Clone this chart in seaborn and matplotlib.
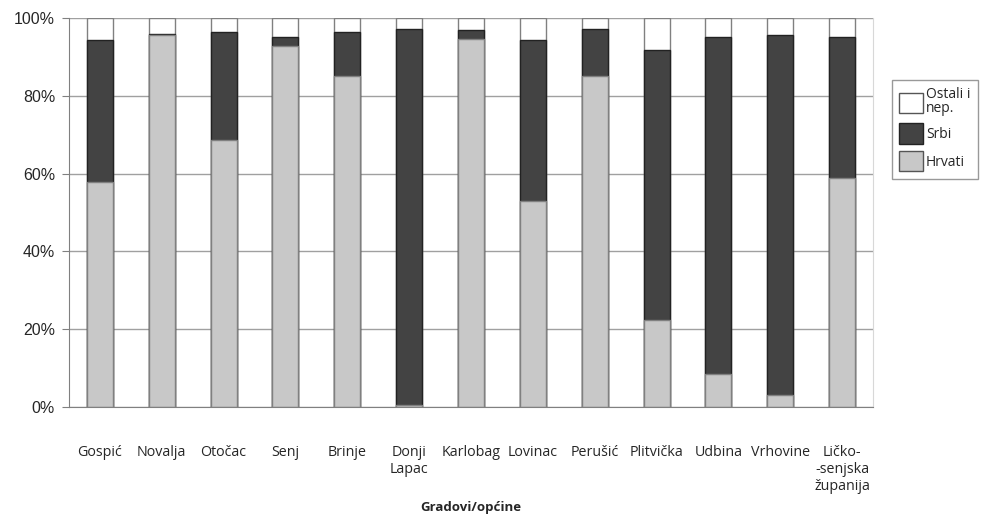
import numpy as np
import pandas as pd
import seaborn as sns
import matplotlib.pyplot as plt
from matplotlib.patches import Patch
from matplotlib.ticker import PercentFormatter

gradovi = ["Gospić", "Novalja", "Otočac", "Senj", "Brinje", "Donji\nLapac",
           "Karlobag", "Lovinac", "Perušić", "Plitvička", "Udbina",
           "Vrhovine", "Ličko-\n-senjska\nžupanija"]
hrvati = [57.9, 95.6, 68.7, 92.9, 85.2, 0.6, 94.6, 53.0, 85.2, 22.4, 8.5, 3.1, 58.9]
srbi = [36.4, 0.4, 27.6, 2.1, 11.1, 96.7, 2.2, 41.3, 12.1, 69.4, 86.6, 92.5, 36.2]
ostali = [100 - h - s for h, s in zip(hrvati, srbi)]

df = pd.DataFrame({"grad": gradovi, "Hrvati": hrvati, "Srbi": srbi, "Ostali": ostali})
df["top_srbi"] = df["Hrvati"] + df["Srbi"]
df["top_ostali"] = df["top_srbi"] + df["Ostali"]

sns.set_style("white")
plt.rcParams["font.family"] = ["Open Sans", "DejaVu Sans"]

fig = plt.figure(figsize=(9.81, 5.15), dpi=100)
ax = fig.add_axes([0.0703, 0.2097, 0.8196, 0.7553])

ax.yaxis.grid(True, color="#a0a0a0", lw=1)
ax.set_axisbelow(True)

w = 0.42
sns.barplot(data=df, x="grad", y="top_ostali", color="white", width=w,
            edgecolor="#808080", linewidth=1, saturation=1, ax=ax)
sns.barplot(data=df, x="grad", y="top_srbi", color="#434343", width=w,
            edgecolor="#222222", linewidth=1, saturation=1, ax=ax)
sns.barplot(data=df, x="grad", y="Hrvati", color="#c8c8c8", width=w,
            edgecolor="#808080", linewidth=1, saturation=1, ax=ax)

ax.set_xlim(-0.5, len(gradovi) - 0.5)
ax.set_ylim(0, 100)
ax.set_yticks(np.arange(0, 101, 20))
ax.yaxis.set_major_formatter(PercentFormatter(decimals=0))
ax.set_xticks(np.arange(-0.5, len(gradovi)), minor=True)
ax.tick_params(axis="x", which="major", length=0, pad=27, labelsize=10.3)
ax.tick_params(axis="x", which="minor", length=5, color="#808080", direction="out")
ax.tick_params(axis="y", length=5, color="#808080", direction="out", pad=5,
               labelsize=11.5, left=True,
               labelfontfamily="Liberation Sans")
for lbl in ax.get_xticklabels():
    lbl.set_verticalalignment("top")
    lbl.set_horizontalalignment("center")
    lbl.set_linespacing(1.2)

ax.set_ylabel("")
ax.set_xlabel("Gradovi/općine", fontsize=9.5, fontweight="bold", labelpad=5)

for side in ["left", "bottom"]:
    ax.spines[side].set_color("#808080")
ax.spines["top"].set_visible(False)
ax.spines["right"].set_color("#d8d8d8")

handles = [Patch(facecolor="white", edgecolor="#555555", label="Ostali i\nnep."),
           Patch(facecolor="#434343", edgecolor="#222222", label="Srbi"),
           Patch(facecolor="#c8c8c8", edgecolor="#555555", label="Hrvati")]
leg = fig.legend(handles=handles, loc="upper left", bbox_to_anchor=(0.909, 0.845),
                 frameon=True, fancybox=False, edgecolor="#808080", fontsize=10,
                 handlelength=1.7, handleheight=1.85, borderpad=0.55, labelspacing=0.55,
                 handletextpad=0.2, borderaxespad=0)
for t in leg.get_texts():
    t.set_linespacing(0.85)

fig.savefig("out.png", dpi=100)
